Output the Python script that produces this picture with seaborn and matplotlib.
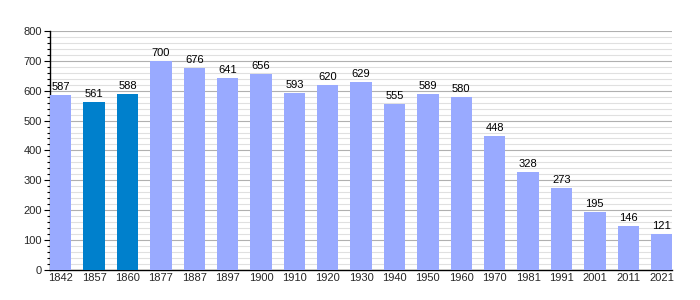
import matplotlib
matplotlib.use("Agg")
import matplotlib.pyplot as plt
import seaborn as sns
import pandas as pd
from matplotlib.ticker import MultipleLocator

years = ["1842", "1857", "1860", "1877", "1887", "1897", "1900", "1910", "1920", "1930",
         "1940", "1950", "1960", "1970", "1981", "1991", "2001", "2011", "2021"]
population = [587, 561, 588, 700, 676, 641, 656, 593, 620, 629,
              555, 589, 580, 448, 328, 273, 195, 146, 121]
highlight = ["1857", "1860"]

sns.set_theme(style="white")
plt.rcParams['font.family'] = ['Liberation Sans', 'DejaVu Sans']

df = pd.DataFrame({"year": years, "pop": population})
light = "#99aaff"
dark = "#0080cc"
palette = {y: (dark if y in highlight else light) for y in years}

fig = plt.figure(figsize=(7, 3), dpi=100)
ax = fig.add_axes([0.0714, 0.1, 0.889, 0.797])

sns.barplot(data=df, x="year", y="pop", hue="year", palette=palette, legend=False,
            width=0.64, saturation=1, linewidth=0, edgecolor="none", ax=ax, zorder=3)

ax.set_ylim(0, 800)
ax.set_xlim(-0.32, len(years) - 1 + 0.32)
ax.yaxis.set_major_locator(MultipleLocator(100))
ax.yaxis.set_minor_locator(MultipleLocator(20))
ax.grid(which="major", axis="y", color="#b0b0b0", linewidth=0.8, zorder=0)
ax.grid(which="minor", axis="y", color="#e0e0e0", linewidth=0.8, zorder=0)
ax.set_axisbelow(True)

for s in ["top", "right"]:
    ax.spines[s].set_visible(False)
for s in ["left", "bottom"]:
    ax.spines[s].set_color("black")
    ax.spines[s].set_linewidth(1)

ax.tick_params(axis="y", which="major", left=True, length=4, width=0.8, color="black", labelsize=8, pad=2)
ax.tick_params(axis="y", which="minor", left=True, length=2, width=0.8, color="black")
ax.tick_params(axis="x", bottom=False, length=0, labelsize=8, pad=2)
ax.set_xlabel("")
ax.set_ylabel("")

for i, v in enumerate(population):
    ax.text(i, v + 10, str(v), ha="center", va="bottom", fontsize=8, color="black")

fig.savefig("out.png", dpi=100)
